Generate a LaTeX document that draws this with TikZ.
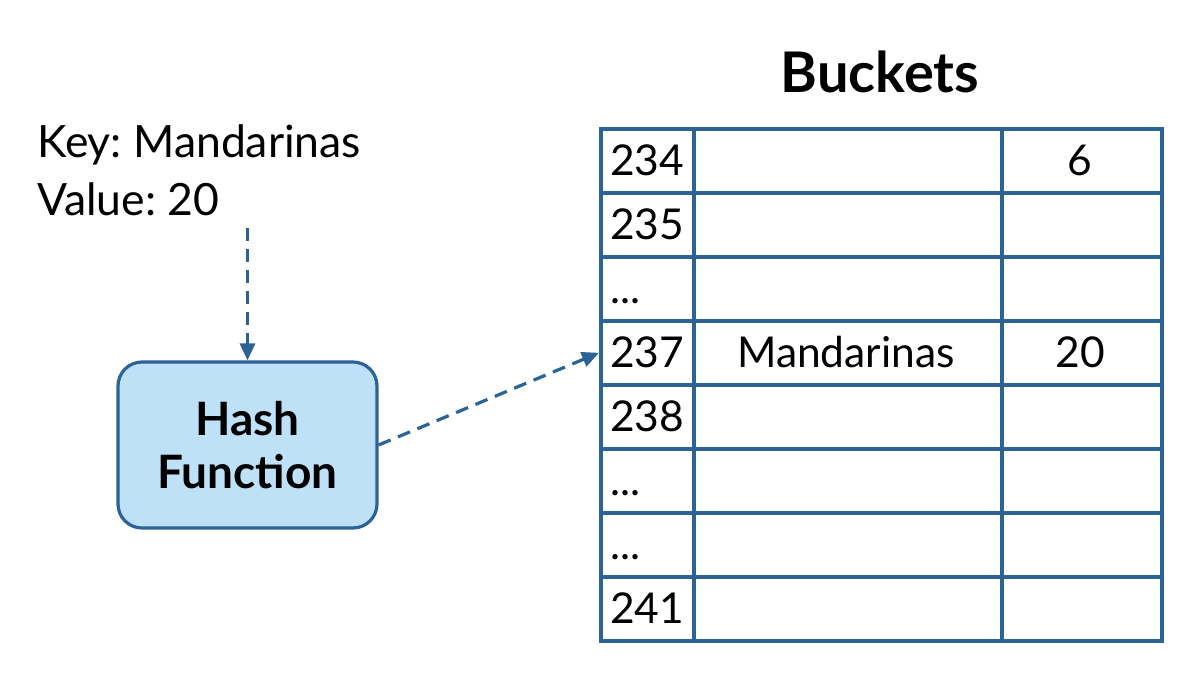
\documentclass[tikz,border=0pt]{standalone}
\usepackage{fontspec}
\setmainfont{Lato}
\frenchspacing
\usetikzlibrary{arrows.meta}
\definecolor{lineblue}{HTML}{2B6396}
\definecolor{fillblue}{HTML}{BEE1F8}
\begin{document}
\begin{tikzpicture}[x=1pt,y=-1pt,
  cell/.style={draw=lineblue,line width=3.6pt,rectangle,inner sep=0pt,anchor=north west},
  celltext/.style={inner sep=0pt,font=\fontsize{42.5}{48}\selectfont},
  hashbox/.style={draw=lineblue,fill=fillblue,line width=3.2pt,rounded corners=24pt,minimum width=259pt,minimum height=166pt,align=center,font=\fontsize{46}{53}\selectfont\bfseries},
  flow/.style={draw=lineblue,line width=3.2pt,dash pattern=on 13pt off 8pt,-{Triangle[length=17pt,width=15pt]}}]
\useasboundingbox (0,0) rectangle (1202,696);
\fill[white] (0,0) rectangle (1202,696);
% key / value
\node[anchor=north west,align=left,inner sep=0pt,font=\fontsize{44.5}{58}\selectfont] (keyval) at (37,124.5) {Key: Mandarinas\\Value: 20};
% hash function
\node[hashbox] (hash) at (247.5,445) {Hash\\Function};
% title
\node[anchor=base,inner sep=0pt,font=\fontsize{56}{60}\selectfont\bfseries] (title) at (880,92) {Buckets};
% table
\foreach \i in {1,...,8}{
  \node[cell,minimum width=93pt,minimum height=64pt] (c\i a) at (599,{127+64*(\i-1)}) {};
  \node[cell,minimum width=308pt,minimum height=64pt] (c\i b) at (692,{127+64*(\i-1)}) {};
  \node[cell,minimum width=160pt,minimum height=64pt] (c\i c) at (1000,{127+64*(\i-1)}) {};
}
\node[celltext,anchor=base west] (n1) at (610,175) {234};
\node[celltext,anchor=base west] (n2) at (610,239) {235};
\node[celltext,anchor=base west] (n3) at (610,303) {...};
\node[celltext,anchor=base west] (n4) at (610,367) {237};
\node[celltext,anchor=base west] (n5) at (610,431) {238};
\node[celltext,anchor=base west] (n6) at (610,495) {...};
\node[celltext,anchor=base west] (n7) at (610,559) {...};
\node[celltext,anchor=base west] (n8) at (610,623) {241};
\node[celltext,anchor=base] (k4) at (846,367) {Mandarinas};
\node[celltext,anchor=base] (v1) at (1080,175) {6};
\node[celltext,anchor=base] (v4) at (1080,367) {20};
% connectors
\draw[flow,shorten <=12pt] (keyval.south -| hash.north) -- (hash.north);
\draw[flow] (hash.east) -- (c4a.west);
\end{tikzpicture}
\end{document}
